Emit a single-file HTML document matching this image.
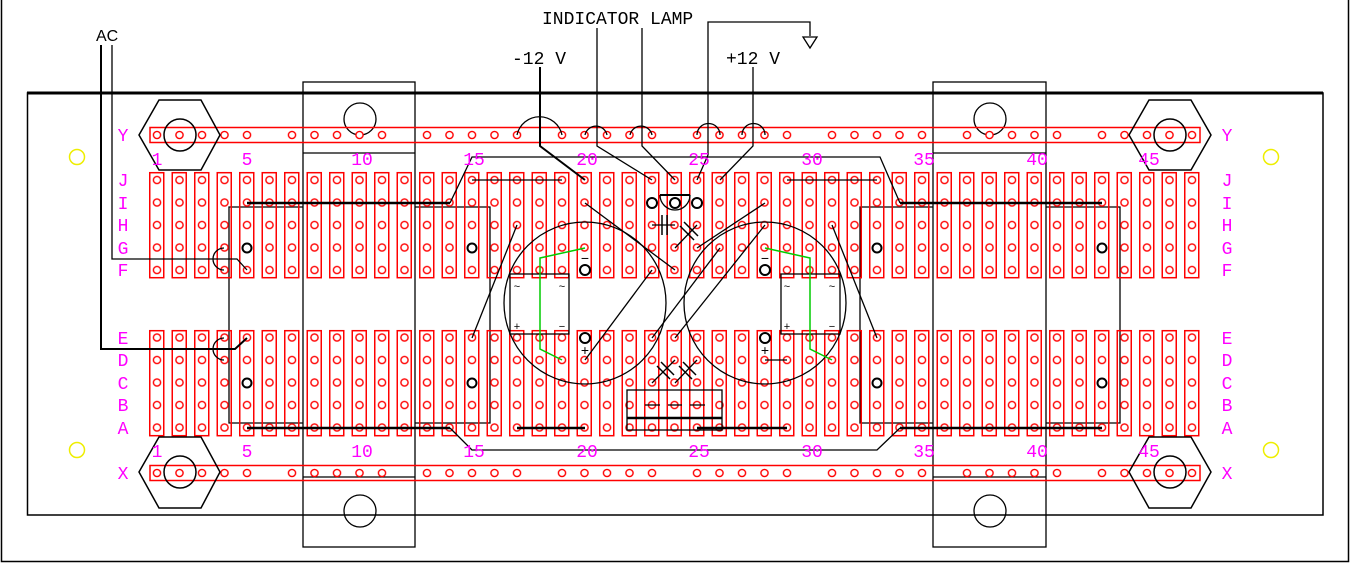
<!DOCTYPE html>
<html><head><meta charset="utf-8"><style>
html,body{margin:0;padding:0;background:#fff}
svg{display:block}
.m{font-family:"Liberation Mono",monospace;font-size:18px;fill:#f0f}
.k{font-family:"Liberation Mono",monospace;font-size:18px;fill:#000}
</style></head><body>
<svg width="1350" height="563" viewBox="0 0 1350 563" xmlns="http://www.w3.org/2000/svg">
<defs>
<pattern id="strip" patternUnits="userSpaceOnUse" x="149" y="0" width="22.5" height="563">
<rect x="0.75" y="172.7" width="14" height="105" fill="none" stroke="#f00" stroke-width="1.5"/>
<rect x="0.75" y="330.7" width="14" height="105" fill="none" stroke="#f00" stroke-width="1.5"/>
</pattern>
<pattern id="hole" patternUnits="userSpaceOnUse" x="145.75" y="168.75" width="22.5" height="22.5">
<circle cx="11.25" cy="11.25" r="3.6" fill="#fff" stroke="#f00" stroke-width="1.4"/>
</pattern>
<pattern id="bus" patternUnits="userSpaceOnUse" x="145.75" y="0" width="135" height="563">
<circle cx="11.25" cy="135" r="3.6" fill="#fff" stroke="#f00" stroke-width="1.4"/>
<circle cx="33.75" cy="135" r="3.6" fill="#fff" stroke="#f00" stroke-width="1.4"/>
<circle cx="56.25" cy="135" r="3.6" fill="#fff" stroke="#f00" stroke-width="1.4"/>
<circle cx="78.75" cy="135" r="3.6" fill="#fff" stroke="#f00" stroke-width="1.4"/>
<circle cx="101.25" cy="135" r="3.6" fill="#fff" stroke="#f00" stroke-width="1.4"/>
<circle cx="11.25" cy="473" r="3.6" fill="#fff" stroke="#f00" stroke-width="1.4"/>
<circle cx="33.75" cy="473" r="3.6" fill="#fff" stroke="#f00" stroke-width="1.4"/>
<circle cx="56.25" cy="473" r="3.6" fill="#fff" stroke="#f00" stroke-width="1.4"/>
<circle cx="78.75" cy="473" r="3.6" fill="#fff" stroke="#f00" stroke-width="1.4"/>
<circle cx="101.25" cy="473" r="3.6" fill="#fff" stroke="#f00" stroke-width="1.4"/>
</pattern>
</defs>
<path d="M1.5,0V561.5H1348.5V0" fill="none" stroke="#000" stroke-width="1.5"/>
<rect x="27.5" y="93" width="1295.5" height="422" fill="none" stroke="#000" stroke-width="1.5"/>
<line x1="27" y1="93" x2="1323" y2="93" stroke="#000" stroke-width="3"/>
<g fill="none" stroke="#000" stroke-width="1.3">
<rect x="303" y="82" width="112" height="465"/>
<rect x="933" y="82" width="113" height="465"/>
<line x1="303" y1="153" x2="415" y2="153"/><line x1="303" y1="477" x2="415" y2="477"/>
<line x1="933" y1="153" x2="1046" y2="153"/><line x1="933" y1="477" x2="1046" y2="477"/>
<circle cx="360" cy="119" r="16"/><circle cx="360" cy="511" r="16"/>
<circle cx="990" cy="119" r="16"/><circle cx="990" cy="511" r="16"/>
<polyline points="303,207 229,207 229,423 303,423"/>
<polyline points="415,207 490,207 490,423 415,423"/>
<polyline points="933,207 860,207 860,423 933,423"/>
<polyline points="1046,207 1120,207 1120,423 1046,423"/>
</g>
<g fill="none" stroke="#ee0" stroke-width="1.5">
<circle cx="77" cy="157" r="7.5"/><circle cx="1271" cy="157" r="7.5"/>
<circle cx="77" cy="450" r="7.5"/><circle cx="1271" cy="450" r="7.5"/>
</g>
<rect x="149" y="170" width="1057.5" height="270" fill="url(#strip)"/>
<rect x="150" y="127.5" width="1050" height="15" fill="none" stroke="#f00" stroke-width="1.5"/>
<rect x="150" y="465.5" width="1050" height="15" fill="none" stroke="#f00" stroke-width="1.5"/>
<rect x="145" y="168.75" width="1058" height="112.5" fill="url(#hole)"/>
<rect x="145" y="326.25" width="1058" height="112.5" fill="url(#hole)"/>
<rect x="145" y="120" width="1058" height="30" fill="url(#bus)"/>
<rect x="145" y="460" width="1058" height="30" fill="url(#bus)"/>
<g fill="none" stroke="#000" stroke-width="1.5">
<polygon points="159,100 201,100 220,135 201,170 159,170 139,135"/>
<circle cx="180" cy="135" r="16"/>
<polygon points="159,437 201,437 220,472 201,508 159,508 139,472"/>
<circle cx="180" cy="472" r="16"/>
<polygon points="1149,100 1191,100 1211,135 1191,170 1149,170 1129,135"/>
<circle cx="1170" cy="135" r="16"/>
<polygon points="1149,437 1191,437 1211,472 1191,508 1149,508 1129,472"/>
<circle cx="1170" cy="472" r="16"/>
</g>
<g fill="#fff" stroke="#000" stroke-width="2">
<circle cx="247" cy="248" r="4.5"/><circle cx="247" cy="383" r="4.5"/>
<circle cx="472" cy="248" r="4.5"/><circle cx="472" cy="383" r="4.5"/>
<circle cx="877" cy="248" r="4.5"/><circle cx="877" cy="383" r="4.5"/>
<circle cx="1102" cy="248" r="4.5"/><circle cx="1102" cy="383" r="4.5"/>
<circle cx="585" cy="270" r="5"/><circle cx="585" cy="338" r="5"/>
<circle cx="765" cy="270" r="5"/><circle cx="765" cy="338" r="5"/>
<circle cx="652" cy="203" r="5"/><circle cx="675" cy="203" r="5"/><circle cx="697" cy="203" r="5"/>
</g>
<g fill="none" stroke="#000" stroke-width="1.3">
<circle cx="585" cy="303" r="81"/>
<circle cx="765" cy="303" r="81"/>
<rect x="510" y="274" width="59" height="60"/>
<rect x="781" y="274" width="59" height="60"/>
</g>
<g fill="none" stroke="#0c0" stroke-width="1.5">
<polyline points="585,248 540,258 540,349 562,360"/>
<polyline points="765,248 810,258 810,349 832,360"/>
</g>
<g fill="none" stroke="#000" stroke-width="1.3">
<polyline points="112,45 112,259 237,259 247,270"/>
<polyline points="101,45 101,349 235,349 247,338" stroke-width="2"/>
<path d="M224,248 A11,11 0 0 0 224,270"/>
<path d="M224,338 A11,11 0 0 0 224,360"/>
<polyline points="540,67 540,146 585,180" stroke-width="2"/>
<polyline points="597,28 597,146 652,180"/>
<polyline points="642,28 642,146 675,180"/>
<polyline points="697,180 708,155 708,22 810,22 810,36"/>
<polygon points="803,37 817,37 810,48"/>
<polyline points="753,67 753,146 720,180"/>
<path d="M517,135 A23,23 0 0 1 562,135"/>
<path d="M585,135 A11.25,11.25 0 0 1 607,135"/>
<path d="M630,135 A11.25,11.25 0 0 1 652,135"/>
<path d="M697,135 A11.25,11.25 0 0 1 720,135"/>
<path d="M742,135 A11.25,11.25 0 0 1 765,135"/>
<polyline points="450,203 472,157 880,157 900,203"/>
<line x1="247" y1="203" x2="450" y2="203" stroke-width="2.5"/>
<line x1="900" y1="203" x2="1102" y2="203" stroke-width="2.5"/>
<line x1="472" y1="180" x2="562" y2="180"/>
<line x1="787" y1="180" x2="877" y2="180"/>
<polyline points="450,428 472,450 877,450 900,428"/>
<line x1="247" y1="428" x2="450" y2="428" stroke-width="2.5"/>
<line x1="900" y1="428" x2="1102" y2="428" stroke-width="2.5"/>
<line x1="517" y1="428" x2="585" y2="428" stroke-width="2.5"/>
<line x1="697" y1="428" x2="787" y2="428" stroke-width="2.5"/>
<line x1="517" y1="225" x2="472" y2="338"/>
<line x1="585" y1="203" x2="675" y2="270"/>
<line x1="585" y1="360" x2="652" y2="270"/>
<line x1="697" y1="248" x2="765" y2="203"/>
<line x1="720" y1="248" x2="652" y2="338"/>
<line x1="765" y1="225" x2="675" y2="338"/>
<line x1="832" y1="225" x2="877" y2="338"/>
<line x1="765" y1="360" x2="787" y2="360"/>
<line x1="660" y1="195" x2="690" y2="195" stroke-width="2"/>
<path d="M660,195 A15,15 0 0 0 690,195"/>
<line x1="652" y1="225" x2="675" y2="225"/>
<line x1="662" y1="215" x2="662" y2="235" stroke-width="1.5"/>
<line x1="667" y1="215" x2="667" y2="235" stroke-width="1.5"/>
<line x1="675" y1="248" x2="697" y2="225"/>
<line x1="680" y1="226" x2="694" y2="240" stroke-width="1.5"/>
<line x1="684" y1="222" x2="698" y2="236" stroke-width="1.5"/>
<line x1="652" y1="383" x2="675" y2="360"/>
<line x1="657" y1="366" x2="670" y2="379" stroke-width="1.5"/>
<line x1="661" y1="362" x2="674" y2="375" stroke-width="1.5"/>
<line x1="675" y1="383" x2="697" y2="360"/>
<line x1="679" y1="366" x2="692" y2="379" stroke-width="1.5"/>
<line x1="683" y1="362" x2="696" y2="375" stroke-width="1.5"/>
<rect x="627" y="390" width="95" height="40"/>
<line x1="627" y1="418" x2="722" y2="418" stroke-width="2.5"/>
<line x1="645" y1="405" x2="660" y2="405"/>
<line x1="668" y1="405" x2="682" y2="405"/>
<line x1="690" y1="405" x2="705" y2="405"/>
</g>
<g font-family="Liberation Sans,sans-serif" font-size="11" fill="#000" text-anchor="middle">
<text x="517" y="290">~</text><text x="562" y="290">~</text>
<text x="517" y="330">+</text><text x="562" y="330">−</text>
<text x="787" y="290">~</text><text x="832" y="290">~</text>
<text x="787" y="330">+</text><text x="832" y="330">−</text>
<text x="585" y="263" font-size="14">−</text><text x="585" y="355" font-size="14">+</text>
<text x="765" y="263" font-size="14">−</text><text x="765" y="355" font-size="14">+</text>
</g>
<text x="96" y="41" font-family="Liberation Sans,sans-serif" font-size="16" fill="#000">AC</text>
<text x="542" y="24" class="k">INDICATOR LAMP</text>
<text x="512" y="64" class="k">-12 V</text>
<text x="726" y="64" class="k">+12 V</text>
<g class="m" text-anchor="middle">
<text x="157" y="165">1</text><text x="247" y="165">5</text><text x="362" y="165">10</text>
<text x="474" y="165">15</text><text x="587" y="165">20</text><text x="699" y="165">25</text>
<text x="812" y="165">30</text><text x="924" y="165">35</text><text x="1037" y="165">40</text>
<text x="1149" y="165">45</text>
<text x="157" y="457">1</text><text x="247" y="457">5</text><text x="362" y="457">10</text>
<text x="474" y="457">15</text><text x="587" y="457">20</text><text x="699" y="457">25</text>
<text x="812" y="457">30</text><text x="924" y="457">35</text><text x="1037" y="457">40</text>
<text x="1149" y="457">45</text>
<text x="123" y="141">Y</text><text x="123" y="186">J</text><text x="123" y="209">I</text>
<text x="123" y="231">H</text><text x="123" y="254">G</text><text x="123" y="276">F</text>
<text x="123" y="344">E</text><text x="123" y="366">D</text><text x="123" y="389">C</text>
<text x="123" y="411">B</text><text x="123" y="434">A</text><text x="123" y="479">X</text>
<text x="1227" y="141">Y</text><text x="1227" y="186">J</text><text x="1227" y="209">I</text>
<text x="1227" y="231">H</text><text x="1227" y="254">G</text><text x="1227" y="276">F</text>
<text x="1227" y="344">E</text><text x="1227" y="366">D</text><text x="1227" y="389">C</text>
<text x="1227" y="411">B</text><text x="1227" y="434">A</text><text x="1227" y="479">X</text>
</g>
</svg>
</body></html>
